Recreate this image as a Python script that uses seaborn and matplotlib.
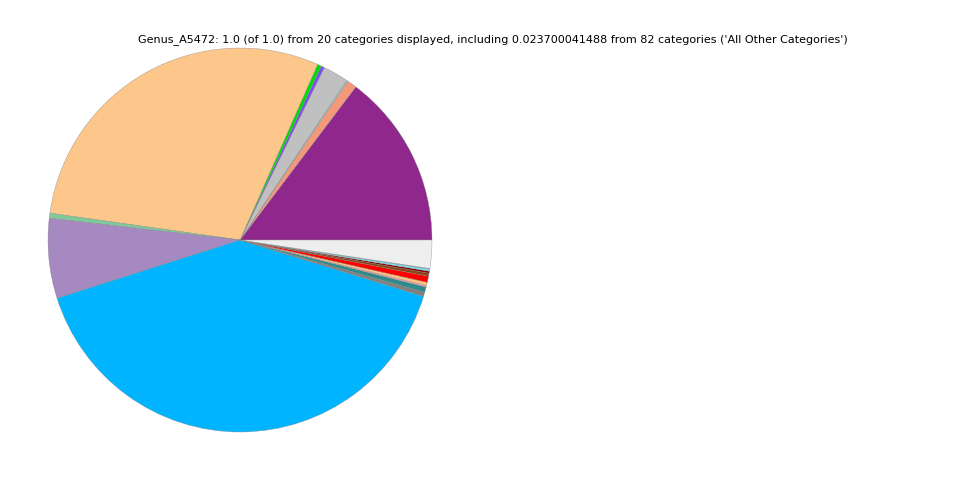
import matplotlib
matplotlib.use("Agg")
import matplotlib.pyplot as plt
import seaborn as sns

sns.set_style("white")

categories = [
    "Cat_01", "Cat_02", "Cat_03", "Cat_04", "Cat_05", "Cat_06", "Cat_07",
    "Cat_08", "Cat_09", "Cat_10", "Cat_11", "Cat_12", "Cat_13", "Cat_14",
    "Cat_15", "Cat_16", "Cat_17", "Cat_18", "Cat_19", "All Other Categories",
]
values = [
    0.1470, 0.0083, 0.0010, 0.0214, 0.0028, 0.0033, 0.2940,
    0.0042, 0.0672, 0.4036, 0.0035, 0.0045, 0.0012, 0.0028,
    0.0052, 0.0025, 0.0017, 0.0017, 0.0006, 0.0237,
]
colors = [
    "#8F278C", "#F4987A", "#7FDFEF", "#C0C0C0", "#7E4BF5", "#00DD00", "#FDC68A",
    "#7FC99A", "#A589C0", "#00B4FF", "#808080", "#2E8B8B", "#F4A0C0", "#FFC080",
    "#FF0000", "#8B4513", "#8B0000", "#80E0F0", "#70D8E8", "#EEEEEE",
]
title = ("Genus_A5472: 1.0 (of 1.0) from 20 categories displayed, including "
         "0.023700041488 from 82 categories ('All Other Categories')")

fig = plt.figure(figsize=(9.6, 4.8), dpi=100)
ax = fig.add_axes([0.0, 0.0, 0.5, 1.0])
ax.pie(values, colors=colors, startangle=0, counterclock=True,
       wedgeprops=dict(edgecolor="#888888", linewidth=0.25))
ax.set_aspect("equal")
fig.text(0.513, 0.917, title, ha="center", va="center", fontsize=8, color="black")
fig.savefig("out.png", dpi=100)
